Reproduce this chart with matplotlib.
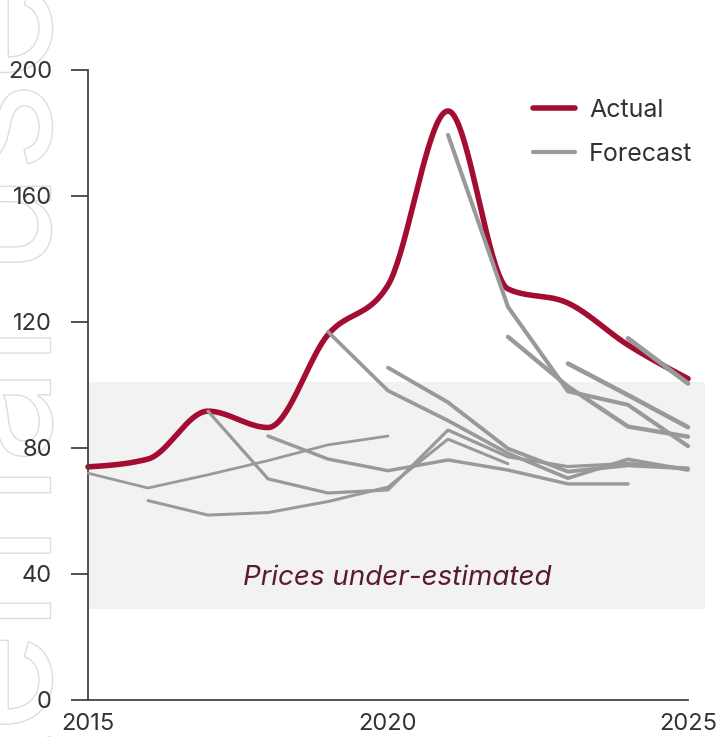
import numpy as np
import matplotlib.pyplot as plt
from matplotlib import patheffects
from matplotlib.lines import Line2D

plt.rcParams['font.family'] = ['Inter', 'DejaVu Sans']

# actual price, yearly
years = list(range(2015, 2026))
actual = [74, 76.5, 91.7, 86.5, 116, 131.7, 187, 130.5, 126, 112.7, 102]

# forecasts, each starts in its own year
fc_2015 = [72, 67.3, 71.5, 76, 81, 83.8]
fc_2016 = [63.3, 58.7, 59.5, 63, 67.6, 82.8, 75]
fc_2017 = [91.7, 70.2, 65.7, 66.7, 85.7, 77.2, 74.1, 75.1, 73.5]
fc_2018 = [83.8, 76.5, 72.8, 76.2, 73, 68.6, 68.6]
fc_2019 = [116.9, 98.2, 88.7, 78.3, 70.4, 76.4, 73]
fc_2020 = [105.5, 94.5, 79.8, 72.5, 74.5, 73.5]
fc_2021 = [179.4, 124.8, 98, 93.7, 80.6]
fc_2022 = [115.3, 99.5, 86.8, 83.6]
fc_2023 = [106.8, 96.8, 86.6]
fc_2024 = [114.8, 100.5]
fc_start = [2015, 2016, 2017, 2018, 2019, 2020, 2021, 2022, 2023, 2024]

band_low, band_high = 29, 101
band_label = "Prices under-estimated"
x_ticks = [2015, 2020, 2025]
y_ticks = [0, 40, 80, 120, 160, 200]

RED = "#A30D32"
GREY = "#999999"
TXT = "#333333"


def monotone(x, y, n=40):
    # monotone cubic (like d3 curveMonotoneX)
    x = np.asarray(x, float)
    y = np.asarray(y, float)
    h = np.diff(x)
    s = np.diff(y) / h
    t = np.zeros_like(y)
    for i in range(1, len(y) - 1):
        p = (s[i - 1] * h[i] + s[i] * h[i - 1]) / (h[i - 1] + h[i])
        t[i] = (np.sign(s[i - 1]) + np.sign(s[i])) * min(abs(s[i - 1]), abs(s[i]), 0.5 * abs(p))
    t[0] = (3 * s[0] - t[1]) / 2
    t[-1] = (3 * s[-1] - t[-2]) / 2
    xs, ys = [], []
    for i in range(len(h)):
        u = np.linspace(0, 1, n)
        h00 = 2 * u**3 - 3 * u**2 + 1
        h10 = u**3 - 2 * u**2 + u
        h01 = -2 * u**3 + 3 * u**2
        h11 = u**3 - u**2
        xs.extend(x[i] + u * h[i])
        ys.extend(h00 * y[i] + h10 * h[i] * t[i] + h01 * y[i + 1] + h11 * h[i] * t[i + 1])
    return np.array(xs), np.array(ys)


fig = plt.figure(figsize=(7.22, 7.37), dpi=100)

# watermark (outlined, mostly off the left edge)
fig.text(86 / 722, 1 - 420 / 737, "For internal use only", rotation=90, fontsize=125,
         ha="right", va="center", color="none", zorder=-5,
         path_effects=[patheffects.Stroke(linewidth=1.0, foreground="#dddddd")])

ax = fig.add_axes([88 / 722, 1 - 700 / 737, 600 / 722, 630 / 737])
ax.patch.set_alpha(0)

ax.fill_between([2015, 2025.28], band_low, band_high, color="#F3F2F3", lw=0,
                clip_on=False, zorder=0)
ax.text(2020.15, 38.7, band_label, style="italic", color="#5B1A33", fontsize=20,
        ha="center", va="center")

sx, sy = monotone(years, actual)
ax.plot(sx, sy, color=RED, lw=4, solid_capstyle="round", zorder=2, clip_on=False)

forecasts = [fc_2015, fc_2016, fc_2017, fc_2018, fc_2019,
             fc_2020, fc_2021, fc_2022, fc_2023, fc_2024]
for i, (start, vals) in enumerate(zip(fc_start, forecasts)):
    xs = np.arange(start, start + len(vals))
    ax.plot(xs, vals, color=GREY, lw=2.0 + 0.16 * i, solid_capstyle="round",
            solid_joinstyle="round", zorder=3, clip_on=False)

ax.set_xlim(2015, 2025)
ax.set_ylim(0, 200)
ax.set_xticks(x_ticks)
ax.set_yticks(y_ticks)
ax.tick_params(axis="y", length=12, width=1.3, color="#444444", labelsize=17,
               labelcolor=TXT, pad=14)
ax.tick_params(axis="x", length=0, labelsize=17, labelcolor=TXT, pad=9)
for side in ["top", "right"]:
    ax.spines[side].set_visible(False)
for side in ["left", "bottom"]:
    ax.spines[side].set_color("#444444")
    ax.spines[side].set_linewidth(1.3)

handles = [Line2D([], [], color=RED, lw=4, solid_capstyle="round"),
           Line2D([], [], color=GREY, lw=3, solid_capstyle="round")]
ax.legend(handles, ["Actual", "Forecast"], loc="upper right", frameon=False,
          fontsize=18, handlelength=1.7, handletextpad=0.55, labelspacing=0.85,
          bbox_to_anchor=(1.045, 0.99), labelcolor=TXT)

fig.savefig("out.png", dpi=100)
